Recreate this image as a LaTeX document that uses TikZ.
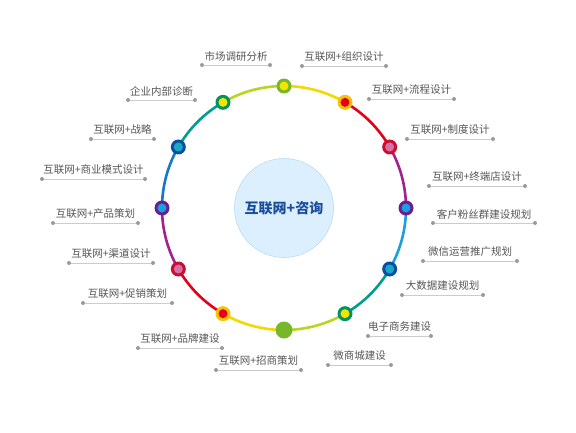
\documentclass[tikz,border=0pt]{standalone}
\usepackage{fontspec}
\usetikzlibrary{calc}
\newfontfamily\cjk{Noto Sans CJK SC}
\definecolor{segyellow}{HTML}{F5D800}
\definecolor{segred}{HTML}{E2001A}
\definecolor{segpurple}{HTML}{A3208F}
\definecolor{segcyan}{HTML}{1C9FE0}
\definecolor{segblue}{HTML}{1478C8}
\definecolor{segteal}{HTML}{009E8C}
\definecolor{segyg}{HTML}{BBD41E}
\definecolor{dgreen}{HTML}{76B82A}
\definecolor{dyellow}{HTML}{F2E500}
\definecolor{dgold}{HTML}{F8C200}
\definecolor{dcrimson}{HTML}{C8102E}
\definecolor{dpink}{HTML}{D770AA}
\definecolor{dviolet}{HTML}{6A1D8F}
\definecolor{dnavy}{HTML}{0A4EA2}
\definecolor{dteal}{HTML}{1AA9C2}
\definecolor{dtgreen}{HTML}{00925F}
\definecolor{textgray}{HTML}{555555}
\definecolor{linegray}{HTML}{CCCCCC}
\definecolor{dotgray}{HTML}{9A9A9A}
\definecolor{hubfill}{HTML}{DCEFFF}
\definecolor{hubdraw}{HTML}{B8DCF5}
\definecolor{hubtext}{HTML}{1A4D9C}
\tikzset{
  seg/.style={line width=2.6pt},
  outerdot/.style={circle, inner sep=0pt, minimum size=15pt, fill=#1},
  innerdot/.style={circle, inner sep=0pt, minimum size=9pt, fill=#1},
  lbl/.style={font=\cjk\fontsize{10.5}{12}\selectfont, text=textgray, inner sep=0pt, anchor=center},
  rulel/.style={draw=linegray, line width=0.9pt},
  enddot/.style={circle, fill=dotgray, inner sep=0pt, minimum size=4pt},
  hub/.style={circle, fill=hubfill, draw=hubdraw, line width=0.6pt, minimum size=99pt, inner sep=0pt,
    font=\cjk\bfseries\fontsize{14}{16}\selectfont, text=hubtext}
}
\begin{document}
\begin{tikzpicture}[x=1pt,y=1pt]
\useasboundingbox (0,0) rectangle (576,432);
\coordinate (C) at (284,224);
% ring segments
\foreach \a/\b/\col in {90/60/segyellow,60/30/segred,30/0/segpurple,0/-30/segcyan,-30/-60/segteal,-60/-90/segyg,
  90/120/segyg,120/150/segteal,150/180/segblue,180/210/segpurple,210/240/segred,240/270/segyellow}{
  \draw[seg,\col] (C) ++(\a:122) arc[start angle=\a, end angle=\b, radius=122];
}
% hub
\node[hub] (hub) at (C) {互联网+咨询};
% dots
\foreach \ang/\oc/\ic [count=\i] in {90/dgreen/dyellow,60/dgold/segred,30/dcrimson/dpink,0/dviolet/segcyan,
  -30/dnavy/dteal,-60/dtgreen/dyellow,120/dtgreen/dyellow,150/dnavy/dteal,180/dviolet/segcyan,
  210/dcrimson/dpink,240/dgold/segred}{
  \node[outerdot=\oc] (o\i) at ($(C)+(\ang:122)$) {};
  \node[innerdot=\ic] (n\i) at (o\i) {};
}
\node[outerdot=dgreen, minimum size=17pt] (bottom) at ($(C)+(270:122)$) {};
% labels
\foreach \xa/\xb/\yl/\txt [count=\i] in {
  202/270/367/市场调研分析,
  302/386/366/互联网+组织设计,
  369/454/333/互联网+流程设计,
  407/493/293/互联网+制度设计,
  429/525/246/互联网+终端店设计,
  433/535/209/客户粉丝群建设规划,
  423/517/171/微信运营推广规划,
  402/483/137/大数据建设规划,
  368/431/96/电子商务建设,
  328/391/67/微商城建设,
  216/301/62/互联网+招商策划,
  138/222/84/互联网+品牌建设,
  83/172/129/互联网+促销策划,
  69/153/169/互联网+渠道设计,
  53/138/209/互联网+产品策划,
  42/145/253/互联网+商业模式设计,
  91/154/293/互联网+战略,
  128/195/332/企业内部诊断}{
  \node[enddot] (la\i) at (\xa,\yl) {};
  \node[enddot] (lb\i) at (\xb,\yl) {};
  \draw[rulel] (la\i) -- (lb\i);
  \node[lbl] (t\i) at ({(\xa+\xb)/2},\yl+9) {\txt};
}
\end{tikzpicture}
\end{document}
